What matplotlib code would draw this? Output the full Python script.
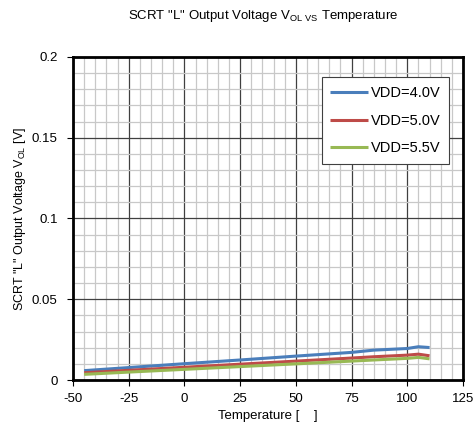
import matplotlib
matplotlib.use("Agg")
import matplotlib.pyplot as plt
from matplotlib.ticker import MultipleLocator

# data
temps = [-45, -25, 0, 25, 50, 75, 85, 100, 105, 110]
vol_40 = [0.0058, 0.0077, 0.0101, 0.0124, 0.0148, 0.0171, 0.0185, 0.0195, 0.0206, 0.0201]
vol_50 = [0.0045, 0.0060, 0.0079, 0.0098, 0.0117, 0.0136, 0.0144, 0.0154, 0.0160, 0.0150]
vol_55 = [0.0035, 0.0049, 0.0066, 0.0083, 0.0100, 0.0117, 0.0124, 0.0134, 0.0140, 0.0131]
labels = ["VDD=4.0V", "VDD=5.0V", "VDD=5.5V"]
colors = ["#4a7ebb", "#be4b48", "#98b954"]

plt.rcParams['font.family'] = ['Liberation Sans', 'DejaVu Sans']
plt.rcParams['axes.unicode_minus'] = False
narrow = ['Liberation Sans Narrow', 'Liberation Sans', 'DejaVu Sans']

fig = plt.figure(figsize=(4.75, 4.34), dpi=100)
ax = fig.add_axes([0.1537, 0.1244, 0.821, 0.7443])

for vals, lab, c in zip([vol_40, vol_50, vol_55], labels, colors):
    ax.plot(temps, vals, color=c, lw=2.2, label=lab, solid_capstyle='butt')

ax.set_xlim(-50, 125)
ax.set_ylim(0, 0.2)
ax.xaxis.set_major_locator(MultipleLocator(25))
ax.xaxis.set_minor_locator(MultipleLocator(5))
ax.yaxis.set_minor_locator(MultipleLocator(0.01))
ax.set_yticks([0, 0.05, 0.1, 0.15, 0.2])
ax.set_yticklabels(["0", "0.05", "0.1", "0.15", "0.2"])

ax.grid(which='minor', color='#c8c8c8', lw=0.9)
ax.grid(which='major', color='#404040', lw=0.9)
ax.set_axisbelow(True)
for s in ax.spines.values():
    s.set_linewidth(2)
ax.tick_params(which='major', direction='out', length=4, width=0.8, labelsize=9.5)
ax.tick_params(axis='y', pad=7)
ax.tick_params(axis='x', pad=5)
ax.tick_params(which='minor', length=0)

ax.set_xlabel("Temperature [    ]", fontsize=9.5, family=narrow, labelpad=4)
ax.set_ylabel('SCRT "L" Output Voltage V$_{\\mathregular{OL}}$ [V]', fontsize=9, family=narrow, labelpad=3)
fig.text(0.555, 0.963, 'SCRT "L" Output Voltage V$_{\\mathregular{OL\\ VS}}$ Temperature',
         ha='center', va='center', fontsize=9.5, family=narrow)

leg = ax.legend(loc='upper right', bbox_to_anchor=(0.964, 0.938), fontsize=10.5,
                frameon=True, fancybox=False, edgecolor='#404040', framealpha=1,
                handlelength=2.6, handletextpad=0.15, labelspacing=0.95, borderpad=0.6,
                borderaxespad=0)
leg.get_frame().set_linewidth(0.8)

fig.savefig("out.png", dpi=100)
